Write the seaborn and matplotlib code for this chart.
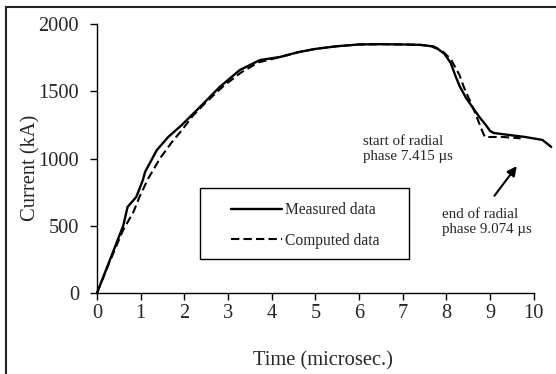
import numpy as np
import pandas as pd
import seaborn as sns
import matplotlib.pyplot as plt
from matplotlib.patches import Rectangle

# data
measured_t = [0, 0.3, 0.6, 0.7, 0.9, 1.05, 1.1, 1.37, 1.63, 1.94, 2.36, 2.81, 3.27,
              3.73, 4.19, 4.6, 5.0, 5.5, 6.0, 6.5, 7.0, 7.4, 7.65, 7.8, 7.95, 8.1,
              8.2, 8.3, 8.45, 8.6, 8.75, 8.9, 9.0, 9.08, 9.43, 9.8, 10.2, 10.4]
measured_i = [0, 250, 500, 640, 715, 840, 900, 1063, 1160, 1249, 1384, 1532, 1658,
              1732, 1755, 1790, 1815, 1835, 1848, 1850, 1848, 1845, 1835, 1815, 1780, 1710,
              1620, 1540, 1450, 1380, 1310, 1250, 1205, 1190, 1175, 1160, 1138, 1086]

computed_t = [0, 0.3, 0.6, 0.83, 0.98, 1.17, 1.44, 1.71, 1.94, 2.2, 2.5, 2.9, 3.3,
              3.7, 4.2, 4.6, 5.0, 5.5, 6.0, 6.5, 7.0, 7.4, 7.7, 7.9, 8.1, 8.3, 8.4,
              8.55, 8.67, 8.8, 8.88, 9.0, 9.3, 9.7]
computed_i = [0, 240, 470, 600, 720, 850, 1000, 1120, 1210, 1320, 1420, 1540, 1640,
              1715, 1755, 1790, 1815, 1835, 1848, 1850, 1848, 1845, 1835, 1800, 1740, 1620, 1530,
              1420, 1330, 1220, 1160, 1160, 1160, 1150]

x_ticks = list(range(0, 11))
y_ticks = [0, 500, 1000, 1500, 2000]

sns.set_theme(style="white")
plt.rcParams['font.family'] = ['Liberation Serif', 'DejaVu Serif']

fig = plt.figure(figsize=(5.56, 3.74), dpi=100)
ax = fig.add_axes([0.1745, 0.2166, 0.7855, 0.7192])

df_m = pd.DataFrame({'t': measured_t, 'i': measured_i})
df_c = pd.DataFrame({'t': computed_t, 'i': computed_i})
sns.lineplot(data=df_m, x='t', y='i', ax=ax, color='black', lw=1.7,
             label='Measured data', clip_on=False, sort=False)
sns.lineplot(data=df_c, x='t', y='i', ax=ax, color='black', lw=1.5,
             label='Computed data', clip_on=False, sort=False)
ax.lines[1].set_dashes((4, 2))

ax.set_xlim(0, 10)
ax.set_ylim(0, 2000)
ax.set_xticks(x_ticks)
ax.set_yticks(y_ticks)
ax.tick_params(axis='both', direction='out', length=5, width=1, color='black',
               labelsize=14.7, bottom=True, left=True)
ax.tick_params(axis='x', pad=3)
ax.tick_params(axis='y', pad=8)
for s in ['top', 'right']:
    ax.spines[s].set_visible(False)
for s in ['left', 'bottom']:
    ax.spines[s].set_color('black')
    ax.spines[s].set_linewidth(1)

ax.set_xlabel('Time (microsec.)', fontsize=14.8)
ax.set_ylabel('Current (kA)', fontsize=14.8)
ax.xaxis.set_label_coords(0.517, -0.215)
ax.yaxis.set_label_coords(-0.130, 0.465)

# legend box drawn separately, entries placed inside it
ax.add_patch(Rectangle((0.236, 0.126), 0.478, 0.264, transform=ax.transAxes,
                       fill=False, lw=1, edgecolor='black', zorder=3))
leg = ax.legend(loc='center left', bbox_to_anchor=(0.3066, 0.251), frameon=False,
                fontsize=11.2, handlelength=3.3, handletextpad=0.15,
                labelspacing=0.95, borderpad=0, borderaxespad=0)

ax.text(6.09, 1074, 'start of radial\nphase 7.415 \u00b5s', fontsize=10.8,
        linespacing=1.2, va='center')
ax.text(7.89, 528, 'end of radial\nphase 9.074 \u00b5s', fontsize=10.8,
        linespacing=1.2, va='center')
ax.annotate('', xy=(9.65, 960), xytext=(9.06, 706),
            arrowprops=dict(arrowstyle='-|>', color='black', lw=1.5, mutation_scale=14))

fig.patches.append(Rectangle((5.5 / 556, -0.1), 1.2, (374 - 7) / 374 + 0.1,
                             transform=fig.transFigure, fill=False, lw=1.5,
                             edgecolor='#222222'))

fig.savefig('out.png', dpi=100)
